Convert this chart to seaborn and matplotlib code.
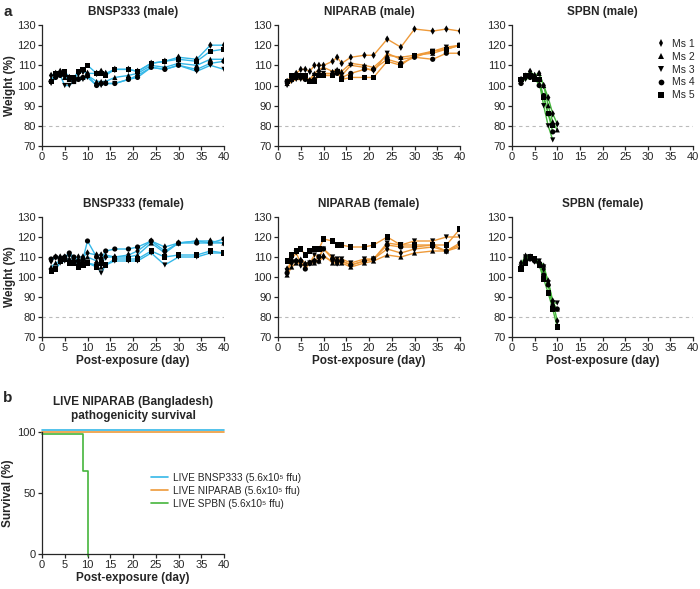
import numpy as np
import pandas as pd
import seaborn as sns
import matplotlib.pyplot as plt
import matplotlib.transforms as mtransforms

sns.set_theme(style="ticks")
plt.rcParams.update({
    "font.family": ["Liberation Sans", "DejaVu Sans"],
    "xtick.labelsize": 8,
    "ytick.labelsize": 8,
    "axes.linewidth": 0.9,
    "xtick.major.width": 0.9,
    "ytick.major.width": 0.9,
    "xtick.major.size": 3,
    "ytick.major.size": 3,
    "xtick.major.pad": 1.5,
    "ytick.major.pad": 1.5,
})

COLORS = {"BNSP333": "#35B8E8", "NIPARAB": "#EE9A3A", "SPBN": "#45B53C"}
MICE = ["Ms 1", "Ms 2", "Ms 3", "Ms 4", "Ms 5"]
MARKERS = {"Ms 1": "d", "Ms 2": "^", "Ms 3": "v", "Ms 4": "o", "Ms 5": "s"}

# ===========================
# Weight data (% of day 0)
# ===========================
days_long = [2, 3, 4, 5, 6, 7, 8, 9, 10, 12, 13, 14, 16, 19, 21, 24, 27, 30, 34, 37, 40]
days_short = [2, 3, 4, 5, 6, 7, 8, 9, 10]

bnsp_male = [
    [105, 106, 107, 106, 104, 103, 106, 107, 106, 106, 107, 106, 108, 108, 107, 111, 112, 114, 113, 120, 120],
    [103, 105, 106, 104, 103, 102, 104, 104, 105, 102, 102, 102, 104, 105, 106, 110, 109, 111, 110, 113, 113],
    [101, 104, 105, 100, 100, 102, 103, 103, 104, 100, 100, 101, 101, 103, 105, 109, 108, 110, 107, 110, 108],
    [102, 104, 105, 105, 103, 102, 103, 104, 105, 100, 101, 101, 101, 103, 104, 109, 108, 110, 108, 111, 112],
    [102, 106, 106, 107, 104, 104, 107, 108, 110, 106, 106, 105, 108, 108, 107, 111, 112, 113, 112, 117, 118],
]
nip_male = [
    [102, 104, 106, 108, 108, 107, 110, 110, 110, 112, 114, 111, 114, 115, 115, 123, 119, 128, 127, 128, 127],
    [101, 103, 104, 105, 104, 103, 106, 108, 109, 107, 108, 107, 111, 110, 109, 115, 114, 115, 116, 118, 120],
    [100, 102, 103, 103, 103, 102, 105, 106, 106, 106, 107, 105, 110, 109, 107, 116, 113, 114, 117, 119, 120],
    [102, 103, 104, 104, 103, 102, 103, 105, 105, 105, 106, 104, 106, 108, 108, 113, 111, 114, 113, 116, 116],
    [102, 105, 105, 105, 105, 102, 102, 105, 105, 105, 107, 103, 104, 104, 104, 112, 110, 115, 117, 118, 120],
]
spbn_male = [
    [103, 104, 107, 105, 106, 100, 94, 86, 81],
    [102, 105, 106, 105, 106, 100, 90, 82, 78],
    [102, 103, 104, 103, 102, 90, 80, 73, np.nan],
    [101, 105, 104, 104, 100, 95, 86, 77, np.nan],
    [103, 105, 105, 103, 103, 94, 86, 80, np.nan],
]
bnsp_female = [
    [108, 110, 110, 110, 111, 109, 110, 110, 112, 111, 111, 110, 110, 111, 113, 118, 115, 117, 118, 118, 117],
    [105, 107, 108, 109, 109, 108, 107, 108, 110, 108, 105, 111, 110, 110, 111, 117, 112, 117, 118, 117, 117],
    [103, 104, 107, 108, 108, 107, 106, 107, 107, 106, 102, 106, 108, 108, 108, 112, 106, 110, 110, 112, 112],
    [109, 110, 109, 110, 112, 110, 108, 109, 118, 110, 109, 113, 114, 114, 115, 118, 113, 117, 117, 117, 119],
    [103, 104, 108, 109, 107, 107, 105, 106, 107, 105, 107, 106, 109, 109, 109, 113, 110, 111, 111, 113, 112],
]
nip_female = [
    [104, 107, 108, 106, 106, 107, 108, 108, 110, 108, 107, 108, 106, 108, 109, 114, 112, 114, 115, 113, 116],
    [101, 105, 107, 109, 107, 107, 107, 108, 111, 107, 107, 107, 105, 107, 108, 111, 110, 112, 113, 113, 115],
    [103, 109, 112, 107, 106, 107, 111, 110, 114, 110, 109, 109, 107, 109, 109, 117, 116, 118, 118, 120, 120],
    [102, 108, 108, 108, 104, 107, 108, 110, 114, 109, 108, 108, 106, 108, 109, 116, 115, 115, 116, 113, 117],
    [108, 111, 113, 114, 111, 113, 114, 114, 119, 118, 116, 116, 115, 115, 116, 120, 116, 116, 116, 116, 124],
]
spbn_female = [
    [107, 109, 110, 108, 106, 104, 98, 88, 78],
    [106, 111, 110, 109, 108, 106, 97, 87, 84],
    [105, 110, 110, 109, 108, 105, 97, 87, 87],
    [104, 108, 109, 108, 107, 101, 96, 85, 84],
    [104, 107, 110, 109, 106, 99, 92, 84, 75],
]

# ===========================
# Survival data
# ===========================
surv_groups = ["LIVE BNSP333 (5.6x10\u2075 ffu)", "LIVE NIPARAB (5.6x10\u2075 ffu)", "LIVE SPBN (5.6x10\u2075 ffu)"]
surv_days = [[0, 40], [0, 40], [0, 9, 10]]
surv_vals = [[100, 100], [100, 100], [100, 70, 0]]
surv_colors = [COLORS["BNSP333"], COLORS["NIPARAB"], COLORS["SPBN"]]
surv_offsets = [1.6, 0.0, -1.6]   # points, keeps overlapping lines visible


def to_long(days, rows):
    recs = []
    for m, vals in zip(MICE, rows):
        for d, v in zip(days, vals):
            if not np.isnan(v):
                recs.append({"day": d, "weight": v, "mouse": m})
    return pd.DataFrame(recs)


W, H = 700, 589
fig = plt.figure(figsize=(W / 100, H / 100), dpi=100)


def px_axes(x0, x1, ytop, ybot):
    return fig.add_axes([x0 / W, 1 - ybot / H, (x1 - x0) / W, (ybot - ytop) / H])


panels = [
    ("BNSP333 (male)", days_long, bnsp_male, "BNSP333", 42, 224, 25, 146),
    ("NIPARAB (male)", days_long, nip_male, "NIPARAB", 278, 460, 25, 146),
    ("SPBN (male)", days_short, spbn_male, "SPBN", 512, 693, 25, 146),
    ("BNSP333 (female)", days_long, bnsp_female, "BNSP333", 42, 224, 217, 337),
    ("NIPARAB (female)", days_long, nip_female, "NIPARAB", 278, 460, 217, 337),
    ("SPBN (female)", days_short, spbn_female, "SPBN", 512, 693, 217, 337),
]

for i, (title, days, rows, grp, x0, x1, yt, yb) in enumerate(panels):
    ax = px_axes(x0, x1, yt, yb)
    df = to_long(days, rows)
    ax.axhline(80, color="#BBBBBB", linestyle="--", linewidth=0.8, dashes=(3, 3), zorder=0)
    sns.lineplot(data=df, x="day", y="weight", units="mouse", estimator=None,
                 color=COLORS[grp], linewidth=1.0, ax=ax, legend=False)
    sns.scatterplot(data=df, x="day", y="weight", style="mouse", markers=MARKERS,
                    color="black", s=14, linewidth=0, ax=ax, zorder=5,
                    legend=(i == 2))
    ax.set_xlim(0, 40)
    ax.set_ylim(70, 130)
    ax.set_xticks(range(0, 41, 5))
    ax.set_yticks(range(70, 131, 10))
    ax.set_title(title, fontsize=8.5, fontweight="bold", pad=7)
    ax.set_ylabel("Weight (%)" if x0 == 42 else "", fontsize=8.5, fontweight="bold", labelpad=1)
    ax.set_xlabel("Post-exposure (day)" if i >= 3 else "", fontsize=8.5, fontweight="bold", labelpad=1)
    sns.despine(ax=ax)
    if i == 2:
        leg = ax.legend(loc="upper right", bbox_to_anchor=(1.04, 0.93), frameon=False,
                        fontsize=7.5, handletextpad=0.1, labelspacing=0.28,
                        borderpad=0, markerscale=1.1)

# ===========================
# Survival panel
# ===========================
ax = px_axes(42, 224, 432, 554)
for name, d, v, c, off in zip(surv_groups, surv_days, surv_vals, surv_colors, surv_offsets):
    sdf = pd.DataFrame({"day": d, "survival": v})
    sns.lineplot(data=sdf, x="day", y="survival", drawstyle="steps-post",
                 color=c, linewidth=1.2, ax=ax, label=name,
                 transform=ax.transData + mtransforms.ScaledTranslation(0, off / 72, fig.dpi_scale_trans),
                 clip_on=False)
ax.set_xlim(0, 40)
ax.set_ylim(0, 100)
ax.set_xticks(range(0, 41, 5))
ax.set_yticks([0, 50, 100])
ax.set_title("LIVE NIPARAB (Bangladesh)\npathogenicity survival", fontsize=8.5,
             fontweight="bold", pad=9, linespacing=1.25)
ax.set_xlabel("Post-exposure (day)", fontsize=8.5, fontweight="bold", labelpad=1)
ax.set_ylabel("Survival (%)", fontsize=8.5, fontweight="bold", labelpad=2)
sns.despine(ax=ax)
ax.legend(loc="center left", bbox_to_anchor=(0.57, 0.52), frameon=False,
          fontsize=7.3, handlelength=1.7, handletextpad=0.5, labelspacing=0.3, borderpad=0)

fig.text(3 / W, 1 - 12 / H, "a", fontsize=11, fontweight="bold", va="center")
fig.text(3 / W, 1 - 398 / H, "b", fontsize=11, fontweight="bold", va="center")

fig.savefig("out.png", dpi=100)
